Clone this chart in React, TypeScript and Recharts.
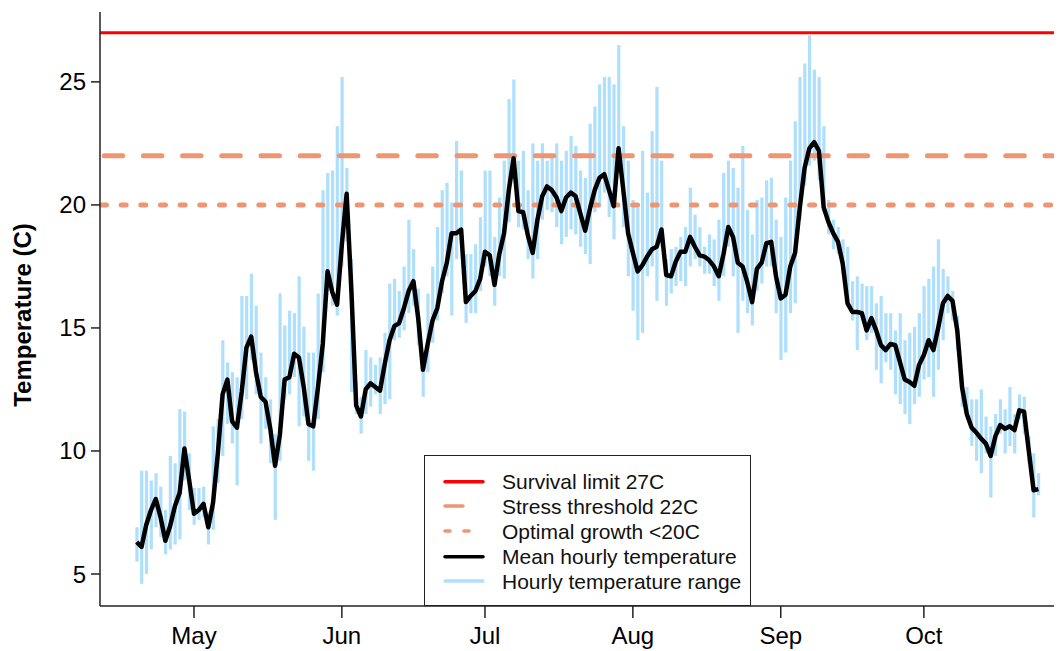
import React from 'react';
import { ComposedChart, Line, Bar, XAxis, YAxis, ReferenceLine } from 'recharts';

// Day-of-year of first observation (19 April)
const START_DOY = 109;

// Daily mean of hourly temperature (C), 19 Apr .. 25 Oct
const meanTemp = [
  6.3, 6.1, 7.0, 7.6, 8.05, 7.3, 6.35, 6.95, 7.75, 8.3, 10.1, 8.8,
  7.45, 7.6, 7.85, 6.9, 7.9, 9.9, 12.3, 12.9, 11.2, 10.95,
  12.4, 14.2, 14.65, 13.2, 12.2, 12.0, 10.9, 9.4, 10.65, 12.9,
  13.0, 13.95, 13.8, 12.6, 11.1, 11.0, 12.6, 14.35, 17.3, 16.45,
  15.95, 18.4, 20.45, 16.5, 11.85, 11.4, 12.5, 12.75, 12.6, 12.45,
  13.55, 14.5, 15.07, 15.2, 15.8, 16.5, 16.9, 15.4, 13.3, 14.35,
  15.3, 15.8, 16.9, 17.65, 18.85, 18.85, 19.0, 16.05, 16.3, 16.5,
  17.0, 18.1, 17.95, 16.75, 18.0, 18.85, 20.6, 21.9, 19.75, 19.7,
  18.75, 18.05, 19.4, 20.35, 20.75, 20.6, 20.3, 19.75, 20.3, 20.5,
  20.35, 19.65, 18.95, 19.85, 20.6, 21.1, 21.25, 20.6, 19.95, 22.3,
  20.6, 18.85, 18.05, 17.3, 17.55, 17.9, 18.2, 18.3, 19.0, 17.15,
  17.1, 17.7, 18.1, 18.1, 18.7, 18.3, 17.95, 17.9, 17.75, 17.5,
  17.1, 18.0, 19.1, 18.7, 17.65, 17.5, 16.85, 16.05, 17.4, 17.65,
  18.45, 18.5, 17.1, 16.2, 16.35, 17.5, 18.05, 19.9, 21.5, 22.3,
  22.55, 22.2, 19.9, 19.3, 18.85, 18.5, 17.6, 16.0, 15.65, 15.65,
  15.6, 14.9, 15.4, 14.9, 14.3, 14.1, 14.35, 14.3, 13.6, 12.9,
  12.8, 12.65, 13.5, 13.9, 14.5, 14.1, 15.0, 16.0, 16.3, 16.1,
  14.9, 12.6, 11.5, 10.95, 10.75, 10.5, 10.3, 9.8, 10.6, 11.05,
  10.9, 11.0, 10.85, 11.65, 11.6, 10.0, 8.4, 8.45,
];

// Daily minimum of hourly temperature (C)
const minTemp = [
  5.5, 4.6, 5.0, 6.0, 6.9, 6.5, 5.8, 6.0, 6.2, 6.4, 8.8, 7.6,
  7.0, 7.2, 7.3, 6.2, 6.8, 8.7, 9.8, 11.1, 10.3, 8.6,
  11.3, 12.1, 13.7, 12.3, 10.3, 10.9, 9.5, 7.2, 9.6, 12.1,
  12.3, 13.0, 11.0, 11.4, 9.6, 9.2, 11.3, 13.2, 16.5, 15.9,
  15.5, 17.5, 18.5, 12.4, 11.5, 10.7, 11.5, 11.8, 12.3, 11.5,
  11.9, 12.1, 14.5, 14.6, 14.9, 15.6, 15.9, 14.3, 12.2, 13.2,
  14.4, 15.3, 16.4, 17.1, 15.5, 17.8, 18.5, 15.2, 15.6, 15.6,
  16.5, 17.5, 17.1, 15.9, 17.1, 17.0, 19.3, 21.0, 19.1, 19.0,
  17.8, 17.0, 17.8, 19.4, 19.8, 19.7, 19.1, 18.4, 18.7, 19.0,
  18.8, 18.3, 18.0, 17.6, 19.7, 19.9, 20.5, 19.5, 18.6, 21.8,
  19.1, 17.1, 15.7, 14.5, 14.8, 17.1, 17.5, 16.1, 18.3, 15.9,
  16.4, 16.7, 16.9, 16.7, 17.5, 17.8, 17.5, 17.2, 17.2, 16.7,
  16.1, 17.1, 18.3, 17.1, 14.8, 16.1, 15.6, 15.1, 16.5, 16.8,
  17.5, 17.5, 15.6, 13.7, 14.0, 15.6, 16.0, 19.4, 20.8, 21.6,
  21.8, 21.0, 19.7, 18.8, 18.2, 18.0, 17.2, 15.9, 15.3, 14.1,
  15.3, 14.5, 14.8, 13.3, 12.75, 13.6, 13.3, 12.3, 11.9, 11.5,
  11.1, 11.9, 12.2, 12.9, 13.0, 12.2, 13.3, 14.5, 15.6, 15.3,
  14.1, 11.8, 11.3, 10.2, 9.6, 9.1, 9.9, 8.1, 9.8, 10.7,
  9.9, 10.2, 9.9, 11.3, 10.7, 9.5, 7.3, 8.2,
];

// Daily maximum of hourly temperature (C)
const maxTemp = [
  6.9, 9.2, 9.2, 8.8, 9.1, 8.55, 7.6, 9.8, 9.5, 11.7, 11.6, 9.9,
  8.5, 8.5, 8.55, 7.5, 11.0, 11.3, 14.5, 13.6, 13.2, 13.0,
  16.3, 16.3, 17.2, 15.9, 14.0, 13.0, 12.1, 10.7, 16.4, 15.1,
  15.7, 15.6, 17.1, 15.05, 14.0, 14.0, 16.4, 20.6, 21.3, 21.4,
  23.2, 25.2, 21.5, 17.8, 12.8, 12.2, 14.1, 13.8, 13.5, 13.8,
  14.8, 16.8, 17.0, 16.5, 17.5, 19.4, 18.2, 16.6, 14.0, 16.4,
  17.5, 19.1, 20.6, 20.9, 20.1, 22.6, 21.4, 18.0, 18.0, 18.4,
  19.5, 21.4, 21.4, 18.7, 20.3, 21.8, 24.3, 25.1, 21.8, 22.2,
  20.6, 22.5, 21.8, 22.5, 21.8, 22.0, 22.5, 21.8, 22.2, 22.8,
  22.4, 21.4, 21.1, 23.3, 24.0, 24.9, 25.2, 25.2, 24.9, 26.5,
  23.2, 21.8, 20.2, 19.9, 22.2, 20.5, 23.0, 24.8, 21.8, 17.8,
  18.2, 18.3, 18.7, 19.1, 20.7, 19.6, 19.1, 18.3, 18.8, 18.6,
  19.4, 21.3, 21.8, 21.5, 20.7, 22.4, 19.8, 18.8, 20.2, 20.3,
  21.0, 21.1, 19.4, 18.7, 20.3, 21.8, 23.4, 25.2, 25.75, 26.9,
  25.5, 25.2, 23.2, 20.2, 19.4, 19.1, 18.6, 18.3, 16.9, 17.1,
  16.8, 16.7, 16.7, 16.0, 16.3, 15.6, 15.6, 14.9, 15.6, 14.5,
  14.8, 15.05, 15.6, 16.7, 17.0, 17.5, 18.6, 17.4, 17.1, 16.5,
  15.5, 13.0, 12.6, 12.1, 12.1, 12.5, 11.4, 11.0, 11.5, 12.1,
  11.7, 12.6, 11.5, 12.3, 12.2, 10.6, 9.9, 9.1,
];

// Month tick positions (day of year of the 1st) and labels
const monthTicks = [121, 152, 182, 213, 244, 274];
const monthLabels = ['May', 'Jun', 'Jul', 'Aug', 'Sep', 'Oct'];
const yTicks = [5, 10, 15, 20, 25];

const survivalLimit = 27;
const stressThreshold = 22;
const optimalGrowth = 20;

const legendLabels = [
  'Survival limit 27C',
  'Stress threshold 22C',
  'Optimal growth <20C',
  'Mean hourly temperature',
  'Hourly temperature range',
];

const FONT = '"Liberation Sans", Arial, Helvetica, sans-serif';
const RED = '#FF0000';
const SALMON = '#EE9572';
const SKY = '#AEDFFC';

const data = meanTemp.map((m, i) => ({
  doy: START_DOY + i,
  mean: m,
  range: [minTemp[i], maxTemp[i]],
}));

const X_DOMAIN: [number, number] = [101.3, 306.1];
const Y_DOMAIN: [number, number] = [3.7, 27.84];

const YLabel = () => {
  const cy = 315;
  const cx = 22;
  return (
    <text
      x={cx}
      y={cy}
      transform={`rotate(-90, ${cx}, ${cy})`}
      textAnchor="middle"
      dominantBaseline="central"
      fontFamily={FONT}
      fontWeight="bold"
      fontSize={24}
      fill="#000"
    >
      Temperature (C)
    </text>
  );
};

const Legend = () => {
  const rows = [26.7, 51, 76, 101.7, 126];
  const styles = [
    { stroke: RED, dash: undefined as string | undefined },
    { stroke: SALMON, dash: '18 40' },
    { stroke: SALMON, dash: '5 14' },
    { stroke: '#000', dash: undefined },
    { stroke: SKY, dash: undefined },
  ];
  return (
    <div
      style={{
        position: 'absolute',
        left: 424,
        top: 455,
        width: 327,
        height: 151,
        boxSizing: 'border-box',
        border: '1.5px solid #222',
        background: '#fff',
      }}
    >
      <svg width={327} height={151} style={{ position: 'absolute', left: -1.5, top: -1.5 }}>
        {legendLabels.map((lab, i) => (
          <g key={lab}>
            <line
              x1={21}
              x2={i === 2 ? 56 : 59}
              y1={rows[i]}
              y2={rows[i]}
              stroke={styles[i].stroke}
              strokeWidth={3.5}
              strokeDasharray={styles[i].dash}
              strokeLinecap="round"
            />
            <text
              x={78}
              y={rows[i]}
              dominantBaseline="central"
              fontFamily={FONT}
              fontSize={21}
              fill="#111"
            >
              {lab}
            </text>
          </g>
        ))}
      </svg>
    </div>
  );
};

export default function App() {
  const tickStyle = { fontSize: 24, fill: '#000', fontFamily: FONT };
  return (
    <div
      style={{
        position: 'relative',
        margin: '-8px 0 0 -8px',
        width: 1062,
        height: 651,
        overflow: 'hidden',
        background: '#fff',
      }}
    >
      <ComposedChart
        width={1090}
        height={651}
        data={data}
        margin={{ top: 12, right: 13, bottom: 5, left: 0 }}
      >
        <XAxis
          xAxisId="top"
          orientation="top"
          type="number"
          dataKey="doy"
          domain={X_DOMAIN}
          allowDataOverflow
          height={0}
          tick={false}
          tickLine={false}
          axisLine={{ stroke: '#222', strokeWidth: 1.5 }}
        />
        <XAxis
          type="number"
          dataKey="doy"
          domain={X_DOMAIN}
          allowDataOverflow
          ticks={monthTicks}
          interval={0}
          tickFormatter={(v: number) => monthLabels[monthTicks.indexOf(v)] || ''}
          height={40}
          tickSize={12}
          tickMargin={9}
          tick={tickStyle}
          axisLine={{ stroke: '#222', strokeWidth: 1.5 }}
          tickLine={{ stroke: '#222', strokeWidth: 1.5 }}
        />
        <YAxis
          type="number"
          domain={Y_DOMAIN}
          allowDataOverflow
          ticks={yTicks}
          interval={0}
          width={100}
          tickSize={9}
          tickMargin={5}
          tick={tickStyle}
          axisLine={{ stroke: '#222', strokeWidth: 1.5 }}
          tickLine={{ stroke: '#222', strokeWidth: 1.5 }}
          label={<YLabel />}
        />
        <Bar
          dataKey="range"
          fill={SKY}
          barSize={3.2}
          isAnimationActive={false}
        />
        <ReferenceLine y={survivalLimit} stroke={RED} strokeWidth={3} />
        <ReferenceLine
          y={stressThreshold}
          stroke={SALMON}
          strokeWidth={5}
          strokeDasharray="18.5 20.7"
          strokeDashoffset={35}
          strokeLinecap="round"
        />
        <ReferenceLine
          y={optimalGrowth}
          stroke={SALMON}
          strokeWidth={5}
          strokeDasharray="5 14.67"
          strokeDashoffset={18.2}
          strokeLinecap="round"
        />
        <Line
          type="linear"
          dataKey="mean"
          stroke="#000"
          strokeWidth={4.5}
          strokeLinejoin="round"
          dot={false}
          activeDot={false}
          isAnimationActive={false}
        />
      </ComposedChart>
      <Legend />
    </div>
  );
}
